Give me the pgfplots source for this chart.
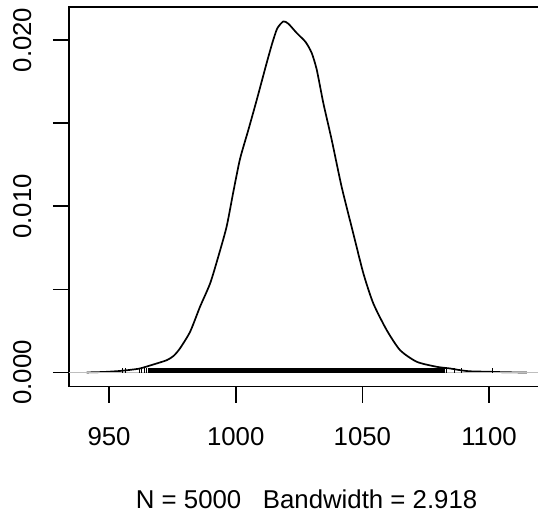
\documentclass[border=0pt]{standalone}
\usepackage{pgfplots}
\pgfplotsset{compat=1.18}
\usepackage{fontspec}
\setmainfont{Liberation Sans}

% density estimate (x, density)
\pgfplotstableread{
x       y
941.1   0.00000
948.0   0.00003
954.3   0.00009
958.5   0.00016
962.2   0.00024
967.5   0.00048
972.8   0.00074
975.5   0.00100
978.0   0.00145
982.0   0.00245
985.9   0.00395
989.9   0.00536
993.1   0.00696
996.4   0.00877
999.1   0.01090
1001.7  0.01285
1005.0  0.01460
1008.3  0.01640
1012.2  0.01861
1014.5  0.01985
1016.4  0.02070
1018.8  0.02112
1020.8  0.02098
1024.1  0.02042
1027.6  0.01988
1030.0  0.01922
1032.0  0.01821
1034.6  0.01620
1037.9  0.01399
1041.8  0.01118
1046.4  0.00837
1050.4  0.00596
1054.3  0.00416
1059.6  0.00255
1064.9  0.00134
1071.5  0.00064
1079.4  0.00034
1084.6  0.00024
1088.5  0.00014
1092.5  0.00007
1100.4  0.00004
1107.0  0.00001
1114.9  0.00000
}\densitydata

% isolated rug ticks in the tails
\pgfplotstableread{
x       y
955.4   0.00009
956.3   0.00009
961.9   0.00009
962.9   0.00009
963.8   0.00009
964.6   0.00009
1083.4  0.00009
1086.3  0.00009
1089.2  0.00009
1101.3  0.00009
}\rugtails

\begin{document}
\begin{tikzpicture}
\fontsize{12.9}{15.5}\selectfont
\begin{axis}[
    at={(34.4pt,62.25pt)}, anchor=south west,
    scale only axis,
    width=237.85pt, height=189.6pt,
    xmin=934.1, xmax=1121.9,
    ymin=-0.000845, ymax=0.02197,
    axis line style={line width=0.85pt},
    tick align=outside,
    major tick length=8pt,
    tick style={black, line width=0.85pt},
    xtick={950,1000,1050,1100},
    xticklabels={950,1000,1050,1100},
    ytick={0,0.005,0.01,0.015,0.02},
    yticklabels={0.000,{},0.010,{},0.020},
    scaled y ticks=false,
    xtick pos=bottom, ytick pos=left,
    xticklabel style={anchor=north, inner sep=0pt, yshift=-12.1pt},
    yticklabel style={anchor=south, inner sep=0pt, xshift=-10.5pt, rotate=90},
    xlabel={N = 5000\hspace{0.834em}Bandwidth = 2.918},
    xlabel style={at={(axis description cs:0.5,0)}, anchor=north,
                  inner sep=0pt, yshift=-51.25pt},
    /pgf/number format/assume math mode=true,
]
\addplot[black, line width=0.85pt, smooth, tension=0.4] table[x=x, y=y] {\densitydata};
\addplot[color={rgb,255:red,190;green,190;blue,190}, line width=0.5pt]
    coordinates {(934.1,0) (1121.9,0)};
\addplot[black, fill=black, draw=none]
    coordinates {(965.2,-0.00006) (1082.6,-0.00006) (1082.6,0.000241) (965.2,0.000241)} -- cycle;
\addplot[black, only marks, mark=|, mark size=1.25pt, mark options={line width=0.5pt}]
    table[x=x, y=y] {\rugtails};
\end{axis}
\pgfresetboundingbox
\path[use as bounding box] (0,0) rectangle (269pt,255.5pt);
\end{tikzpicture}
\end{document}
